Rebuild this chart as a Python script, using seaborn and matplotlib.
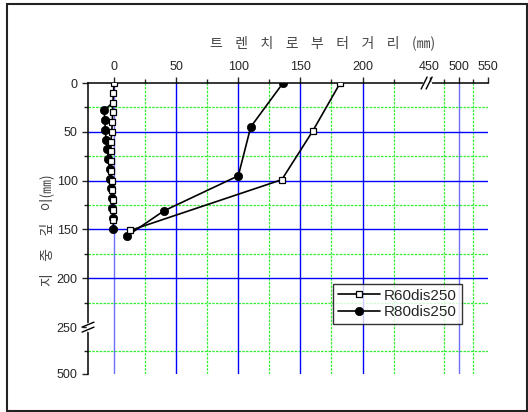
import numpy as np
import pandas as pd
import matplotlib
matplotlib.use("Agg")
import matplotlib.pyplot as plt
import seaborn as sns
from matplotlib.lines import Line2D
from matplotlib.patches import Rectangle

# -------------------------
# DATA
# -------------------------
r60_x = [182, 160, 135, 13]
r60_depth = [0, 49, 99, 151]
r80_x = [136, 110, 100, 40, 10]
r80_depth = [0, 45, 95, 131, 157]

# near-zero column (measured along the wall)
wall_sq_x = [0, -0.5, -1, -1.2, -1.4, -1.9, -2.5, -2.7, -2.5, -2.5, -1.9, -1.4, -1.1, -0.5, -0.5]
wall_sq_depth = [0, 10, 20, 30, 40, 50, 60, 70, 80, 90, 100, 110, 120, 130, 140]
wall_ci_x = [-1, -8, -7.5, -7, -6.5, -5.5, -4.5, -3.5, -3, -2.5, -2, -1.5, -1, -0.5]
wall_ci_depth = [20, 28, 38, 48, 58, 68, 78, 88, 98, 108, 118, 128, 138, 150]

x_ticks = [0, 50, 100, 150, 200, 450, 500, 550]
y_ticks = [0, 50, 100, 150, 200, 250, 500]
series_names = ["R60dis250", "R80dis250"]

title_text = "트    렌    치    로    부    터    거    리    (㎜)"
ylabel_text = "지    중    깊    이(㎜)"


# -------------------------
# BROKEN AXIS SCALES
# -------------------------
def fwd_x(v):
    return np.interp(v, [-1e4, 250, 450, 1e4], [-1e4, 250, 254, 254 + (1e4 - 450) * 0.47])


def inv_x(v):
    return np.interp(v, [-1e4, 250, 254, 254 + (1e4 - 450) * 0.47], [-1e4, 250, 450, 1e4])


def fwd_y(v):
    return np.interp(v, [-1e4, 250, 1e4], [-1e4, 250, 250 + (1e4 - 250) * 0.192])


def inv_y(v):
    return np.interp(v, [-1e4, 250, 250 + (1e4 - 250) * 0.192], [-1e4, 250, 1e4])


sns.set_style("white")
plt.rcParams["font.family"] = ["Liberation Sans", "DejaVu Sans"]

fig = plt.figure(figsize=(5.28, 4.12), dpi=100)
ax = fig.add_axes([88 / 528, 1 - 374 / 412, 400 / 528, 291 / 412])
ax.set_xscale("function", functions=(fwd_x, inv_x))
ax.set_yscale("function", functions=(fwd_y, inv_y))
ax.set_xlim(-21, 550)
ax.set_ylim(500, 0)

# -------------------------
# GRID
# -------------------------
for xv in [25, 75, 125, 175, 225, 475, 525]:
    ax.axvline(xv, color="#33ee33", lw=0.9, ls=(0, (2, 1)), zorder=0)
for yv in [25, 75, 125, 175, 225, 375]:
    ax.axhline(yv, color="#33ee33", lw=0.9, ls=(0, (2, 1)), zorder=0)
for xv in [50, 100, 150, 200]:
    ax.axvline(xv, color="#0000ff", lw=1.0, zorder=0)
for xv in [0, 500]:
    ax.axvline(xv, color="#6f6fff", lw=1.0, zorder=0)
for yv in [50, 100, 150, 200]:
    ax.axhline(yv, color="#0000ff", lw=1.0, zorder=0)

# -------------------------
# LINES
# -------------------------
sq_style = dict(color="black", lw=1.2, marker="s", markersize=5,
                markerfacecolor="white", markeredgecolor="black", markeredgewidth=0.9)
ci_style = dict(color="black", lw=1.2, marker="o", markersize=6,
                markerfacecolor="black", markeredgecolor="black", markeredgewidth=0.5)

sns.lineplot(x=wall_ci_x, y=wall_ci_depth, sort=False, estimator=None, ax=ax,
             markevery=list(range(1, len(wall_ci_x))), zorder=3, **ci_style)
sns.lineplot(x=wall_sq_x, y=wall_sq_depth, sort=False, estimator=None, ax=ax,
             zorder=4, **sq_style)
sns.lineplot(x=r80_x, y=r80_depth, sort=False, estimator=None, ax=ax,
             zorder=3, **ci_style)
sns.lineplot(x=r60_x, y=r60_depth, sort=False, estimator=None, ax=ax,
             zorder=4, **sq_style)

# -------------------------
# AXES / TICKS
# -------------------------
ax.xaxis.tick_top()
ax.set_xticks(x_ticks)
ax.set_xticklabels([str(v) for v in x_ticks])
ax.set_xticks([25, 75, 125, 175, 225, 475, 525], minor=True)
ax.set_yticks(y_ticks)
ax.set_yticklabels([str(v) for v in y_ticks])
ax.set_yticks([25, 75, 125, 175, 225, 375], minor=True)
ax.tick_params(which="major", direction="out", length=4.5, width=1, labelsize=9, pad=3,
               top=True, bottom=False, left=True, right=False)
ax.tick_params(which="minor", direction="out", length=3, width=1,
               top=True, bottom=False, left=True, right=False)
ax.set_xlabel("")
ax.set_ylabel("")
for side in ["bottom", "right"]:
    ax.spines[side].set_visible(False)
for side in ["top", "left"]:
    ax.spines[side].set_color("black")
    ax.spines[side].set_linewidth(1.1)

# break marks
to_ax = ax.transAxes.inverted()
bx = to_ax.transform(ax.transData.transform((350, 0)))[0]
W, H = 400.0, 291.0
ax.plot([bx - 3 / W, bx + 3 / W], [1, 1], color="white", lw=2.5, transform=ax.transAxes,
        clip_on=False, zorder=6)
for off in (-3.0, 2.0):
    cx = bx + off / W
    ax.plot([cx - 3 / W, cx + 3 / W], [1 - 6 / H, 1 + 6 / H], color="black", lw=1,
            transform=ax.transAxes, clip_on=False, zorder=7)
by = to_ax.transform(ax.transData.transform((0, 250)))[1]
ax.plot([0, 0], [by - 3 / H, by + 3 / H], color="white", lw=2.5, transform=ax.transAxes,
        clip_on=False, zorder=6)
for off in (-2.5, 2.5):
    cy = by + off / H
    ax.plot([-6 / W, 6 / W], [cy - 2.5 / H, cy + 2.5 / H], color="black", lw=1,
            transform=ax.transAxes, clip_on=False, zorder=7)

# -------------------------
# LEGEND
# -------------------------
handles = [
    Line2D([], [], **sq_style),
    Line2D([], [], **ci_style),
]
leg = ax.legend(handles, series_names, loc="upper left", bbox_to_anchor=(0.6125, 0.309),
                frameon=True, fancybox=False, edgecolor="black", fontsize=11,
                handlelength=2.8, handletextpad=0.25, borderpad=0.3, labelspacing=0.15,
                borderaxespad=0)
leg.get_frame().set_linewidth(1.0)

# -------------------------
# TITLES
# -------------------------
cjk = ["Noto Sans CJK KR", "DejaVu Sans"]
fig.text(323 / 528, 1 - 43 / 412, title_text, ha="center", va="center", fontsize=10,
         color="#444444", family=cjk)
fig.text(47 / 528, 1 - 230 / 412, ylabel_text, ha="center", va="center", fontsize=10,
         color="#444444", rotation=90, family=cjk)

# figure frame
fig.patches.append(Rectangle((7 / 528, 1 / 412), 520 / 528, 407 / 412, transform=fig.transFigure,
                             fill=False, edgecolor="#222222", lw=1.5))

fig.savefig("out.png", dpi=100)
